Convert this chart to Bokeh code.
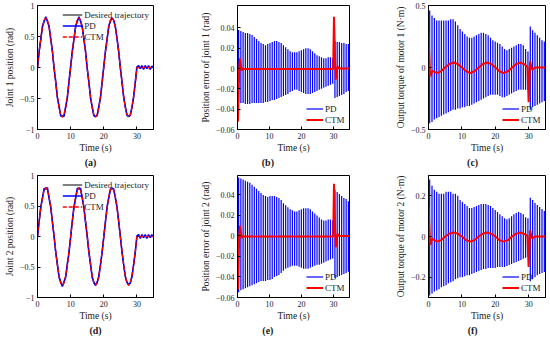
import numpy as np
from bokeh.plotting import figure
from bokeh.layouts import row, column
from bokeh.models import Range1d, FixedTicker, CustomJSTickFormatter, LinearAxis
from bokeh.embed import file_html
from bokeh.resources import INLINE

# ---------------- data ----------------
t_pos = np.arange(0, 35.01, 0.5)
desired = [0, 0.247, 0.470, 0.647, 0.761, 0.8, 0.761, 0.647, 0.470, 0.247,
           0, -0.247, -0.470, -0.647, -0.761, -0.8, -0.761, -0.647, -0.470, -0.247,
           0, 0.247, 0.470, 0.647, 0.761, 0.8, 0.761, 0.647, 0.470, 0.247,
           0, -0.247, -0.470, -0.647, -0.761, -0.8, -0.761, -0.647, -0.470, -0.247,
           0, 0.247, 0.470, 0.647, 0.761, 0.8, 0.761, 0.647, 0.470, 0.247,
           0, -0.247, -0.470, -0.647, -0.761, -0.8, -0.761, -0.647, -0.470, -0.247,
           0,
           0, 0, 0, 0, 0, 0, 0, 0, 0, 0]
ctm_pos_1 = desired
ctm_pos_2 = desired
pd_pos_1 = [0.0, 0.27, 0.45, 0.67, 0.74, 0.82, 0.74, 0.67, 0.45, 0.27,
            -0.02, -0.22, -0.49, -0.62, -0.78, -0.78, -0.79, -0.63, -0.49, -0.22,
            0.02, 0.27, 0.45, 0.67, 0.74, 0.82, 0.74, 0.66, 0.45, 0.26,
            -0.02, -0.23, -0.49, -0.63, -0.78, -0.79, -0.78, -0.63, -0.49, -0.23,
            0.02, 0.27, 0.45, 0.67, 0.75, 0.80, 0.76, 0.66, 0.46, 0.26,
            -0.01, -0.23, -0.48, -0.63, -0.77, -0.79, -0.77, -0.64, -0.48, -0.24,
            0.01,
            0.03, -0.02, 0.03, -0.03, 0.03, -0.02, 0.03, -0.03, 0.02, 0.0]
pd_pos_2 = [0.0, 0.25, 0.49, 0.62, 0.79, 0.78, 0.80, 0.62, 0.49, 0.23,
            0.01, -0.26, -0.45, -0.67, -0.74, -0.82, -0.74, -0.67, -0.45, -0.27,
            -0.01, 0.25, 0.49, 0.62, 0.79, 0.78, 0.79, 0.63, 0.48, 0.23,
            0.01, -0.26, -0.45, -0.67, -0.75, -0.80, -0.75, -0.66, -0.46, -0.26,
            -0.01, 0.24, 0.49, 0.63, 0.78, 0.79, 0.78, 0.63, 0.48, 0.24,
            0.0, -0.26, -0.46, -0.66, -0.75, -0.79, -0.76, -0.66, -0.46, -0.26,
            0.01,
            0.03, -0.03, 0.03, -0.02, 0.03, -0.03, 0.03, -0.02, 0.03, 0.0]

# PD oscillation: one swing every 0.7 s, upper / lower excursions
t_osc = np.arange(0.35, 35, 0.7)
err1_hi = [0.038, 0.037, 0.036, 0.035, 0.035, 0.034, 0.033, 0.031, 0.029, 0.027,
           0.025, 0.024, 0.023, 0.024, 0.025, 0.026, 0.027, 0.027, 0.026, 0.025,
           0.023, 0.021, 0.019, 0.017, 0.016, 0.016, 0.016, 0.017, 0.018, 0.019,
           0.020, 0.020, 0.019, 0.017, 0.015, 0.013, 0.012, 0.011, 0.010, 0.010,
           0.011, 0.011, 0.010, 0.027, 0.026, 0.026, 0.025, 0.025, 0.024, 0.024]
err1_lo = [-0.033, -0.034, -0.034, -0.035, -0.035, -0.035, -0.034, -0.034, -0.034, -0.034,
           -0.034, -0.034, -0.033, -0.033, -0.032, -0.031, -0.031, -0.030, -0.029, -0.028,
           -0.027, -0.026, -0.025, -0.023, -0.022, -0.021, -0.021, -0.022, -0.023, -0.024,
           -0.025, -0.025, -0.025, -0.024, -0.023, -0.022, -0.021, -0.020, -0.019, -0.018,
           -0.017, -0.016, -0.015, -0.029, -0.028, -0.027, -0.026, -0.025, -0.023, -0.022]
err2_hi = [0.057, 0.056, 0.055, 0.054, 0.053, 0.052, 0.050, 0.048, 0.046, 0.044,
           0.042, 0.040, 0.039, 0.038, 0.039, 0.039, 0.039, 0.038, 0.037, 0.035,
           0.032, 0.030, 0.028, 0.026, 0.025, 0.024, 0.024, 0.025, 0.026, 0.027,
           0.027, 0.027, 0.026, 0.024, 0.022, 0.020, 0.018, 0.016, 0.015, 0.015,
           0.016, 0.016, 0.015, 0.045, 0.043, 0.041, 0.039, 0.037, 0.036, 0.034]
err2_lo = [-0.055, -0.053, -0.052, -0.051, -0.050, -0.049, -0.048, -0.047, -0.046, -0.045,
           -0.044, -0.044, -0.044, -0.043, -0.043, -0.042, -0.040, -0.039, -0.038, -0.036,
           -0.034, -0.032, -0.031, -0.030, -0.029, -0.029, -0.029, -0.030, -0.031, -0.032,
           -0.032, -0.032, -0.031, -0.030, -0.029, -0.028, -0.028, -0.027, -0.026, -0.025,
           -0.024, -0.023, -0.022, -0.041, -0.040, -0.039, -0.038, -0.037, -0.036, -0.035]
tq1_hi = [0.46, 0.42, 0.40, 0.38, 0.38, 0.38, 0.38, 0.38, 0.38, 0.39,
          0.39, 0.37, 0.34, 0.31, 0.29, 0.27, 0.25, 0.24, 0.24, 0.25,
          0.26, 0.27, 0.28, 0.28, 0.27, 0.26, 0.24, 0.22, 0.21, 0.20,
          0.19, 0.17, 0.15, 0.14, 0.15, 0.16, 0.17, 0.18, 0.19, 0.19,
          0.18, 0.15, 0.13, 0.33, 0.30, 0.28, 0.26, 0.24, 0.22, 0.21]
tq1_lo = [-0.45, -0.44, -0.42, -0.41, -0.40, -0.39, -0.38, -0.37, -0.36, -0.35,
          -0.34, -0.34, -0.33, -0.33, -0.32, -0.32, -0.31, -0.31, -0.30, -0.29,
          -0.28, -0.27, -0.26, -0.25, -0.24, -0.23, -0.22, -0.22, -0.22, -0.22,
          -0.23, -0.24, -0.24, -0.23, -0.22, -0.21, -0.20, -0.19, -0.18, -0.18,
          -0.18, -0.18, -0.18, -0.34, -0.32, -0.31, -0.30, -0.29, -0.28, -0.27]
tq2_hi = [0.28, 0.25, 0.23, 0.22, 0.21, 0.21, 0.21, 0.22, 0.22, 0.22,
          0.21, 0.21, 0.20, 0.18, 0.17, 0.16, 0.15, 0.14, 0.14, 0.145,
          0.15, 0.155, 0.16, 0.16, 0.16, 0.155, 0.15, 0.14, 0.13, 0.12,
          0.11, 0.10, 0.09, 0.085, 0.09, 0.10, 0.11, 0.115, 0.12, 0.115,
          0.11, 0.095, 0.09, 0.19, 0.18, 0.165, 0.155, 0.145, 0.135, 0.125]
tq2_lo = [-0.29, -0.28, -0.27, -0.265, -0.26, -0.25, -0.245, -0.24, -0.23, -0.225,
          -0.22, -0.21, -0.205, -0.20, -0.20, -0.195, -0.19, -0.19, -0.185, -0.18,
          -0.175, -0.17, -0.165, -0.16, -0.16, -0.155, -0.155, -0.155, -0.155, -0.15,
          -0.15, -0.15, -0.15, -0.145, -0.14, -0.135, -0.13, -0.125, -0.12, -0.115,
          -0.11, -0.105, -0.10, -0.22, -0.21, -0.20, -0.19, -0.185, -0.18, -0.175]

# CTM curves
t_ctm_err = [0, 0.15, 0.3, 0.55, 0.8, 1.05, 1.3, 1.6, 2.0, 29.9, 30.15, 30.4, 30.7, 31.0, 31.3, 31.7, 35]
ctm_err1 = [0, -0.052, -0.03, 0.0, 0.010, 0.004, -0.002, 0.0, -0.0005, -0.0005, 0.051, 0.02, -0.011, -0.003, 0.002, 0.0, 0.0]
ctm_err2 = [0, -0.052, -0.03, 0.0, 0.010, 0.004, -0.002, 0.0, -0.0005, -0.0005, 0.051, 0.02, -0.011, -0.003, 0.002, 0.0, 0.0]
t_ctm_tq = [0, 0.2, 0.45, 0.7, 1.0, 1.5,
            2.5, 3.75, 5, 6.25, 7.5, 8.75, 10, 11.25, 12.5, 13.75, 15, 16.25, 17.5, 18.75, 20,
            21.25, 22.5, 23.75, 25, 26.25, 27.5, 28.75,
            29.6, 29.95, 30.4, 30.8, 31.1, 31.5, 32, 35]
ctm_tq1 = [0.28, 0.12, -0.05, -0.07, -0.03, -0.03,
           -0.045, -0.03, 0.0, 0.028, 0.04, 0.028, 0.0, -0.03, -0.045, -0.03, 0.0, 0.028, 0.04, 0.028, 0.0,
           -0.03, -0.045, -0.03, 0.0, 0.028, 0.04, 0.025,
           0.005, -0.28, 0.05, 0.0, -0.02, -0.005, 0.0, 0.0]
ctm_tq2 = [0.15, 0.07, -0.03, -0.04, -0.01, -0.015,
           -0.025, -0.018, 0.0, 0.014, 0.02, 0.014, 0.0, -0.018, -0.025, -0.018, 0.0, 0.014, 0.02, 0.014, 0.0,
           -0.018, -0.025, -0.018, 0.0, 0.014, 0.02, 0.012,
           0.003, -0.15, 0.03, 0.0, -0.01, -0.003, 0.0, 0.0]

x_ticks = [0, 10, 20, 30]
pos_ticks = [-1, -0.5, 0, 0.5, 1]
err_ticks = [-0.06, -0.04, -0.02, 0, 0.02, 0.04]
tq1_ticks = [-0.5, 0, 0.5]
tq2_ticks = [-0.2, 0, 0.2]

FONT = "Liberation Serif"
BLUE = "#0000ff"
RED = "#ff0000"
TXT = "#222222"


def fmt():
    return CustomJSTickFormatter(code="""
if (Math.abs(tick) < 1e-9) return '0';
var s = parseFloat(Math.abs(tick).toFixed(4)).toString();
return (tick < 0 ? '\\u2212' : '') + s;
""")


def style_axis(ax, ticks):
    ax.ticker = FixedTicker(ticks=ticks)
    ax.formatter = fmt()
    ax.major_tick_in = 3
    ax.major_tick_out = 0
    ax.minor_tick_in = 0
    ax.minor_tick_out = 0
    ax.major_tick_line_color = "black"
    ax.axis_line_color = "black"
    ax.major_label_text_font = FONT
    ax.major_label_text_font_size = "8px"
    ax.major_label_text_color = TXT
    ax.major_label_standoff = 3
    ax.axis_label_text_font = FONT
    ax.axis_label_text_font_size = "9.5px"
    ax.axis_label_text_font_style = "normal"
    ax.axis_label_text_color = TXT
    ax.axis_label_standoff = 1


def panel(width, height, bl, br, bt, bb, yr, yticks, ylabel, cap, cap_x):
    p = figure(width=width, height=height, x_range=Range1d(0, 35), y_range=Range1d(*yr),
               output_backend="svg", toolbar_location=None,
               min_border_left=bl, min_border_right=br, min_border_top=bt, min_border_bottom=bb)
    p.grid.visible = False
    p.outline_line_color = "black"
    p.outline_line_width = 1
    style_axis(p.xaxis[0], x_ticks)
    style_axis(p.yaxis[0], yticks)
    p.yaxis.axis_label_standoff = 2
    p.xaxis.axis_label = "Time (s)"
    p.yaxis.axis_label = ylabel
    # sub-figure caption as a tick-less axis below the time axis
    cap_axis = LinearAxis(ticker=FixedTicker(ticks=[cap_x]),
                          formatter=CustomJSTickFormatter(code="return '%s';" % cap),
                          axis_line_color=None, major_tick_line_color=None,
                          major_tick_in=0, major_tick_out=0, minor_tick_in=0, minor_tick_out=0,
                          major_label_standoff=1, major_label_text_font=FONT,
                          major_label_text_font_size="10px", major_label_text_font_style="bold",
                          major_label_text_color=TXT)
    p.add_layout(cap_axis, "below")
    return p


def style_legend(p, loc, gw):
    lg = p.legend[0]
    lg.location = loc
    lg.background_fill_alpha = 0
    lg.border_line_alpha = 0
    lg.label_text_font = FONT
    lg.label_text_font_size = "9px"
    lg.label_text_color = TXT
    lg.glyph_width = gw
    lg.glyph_height = 11
    lg.label_height = 11
    lg.label_standoff = 2
    lg.spacing = 0
    lg.padding = 2
    lg.margin = 2


def pos_panel(width, height, bl, br, bt, bb, pd, ctm, ylabel, cap, cap_x):
    p = panel(width, height, bl, br, bt, bb, (-1, 1), pos_ticks, ylabel, cap, cap_x)
    p.line(t_pos, desired, color="black", line_width=1, legend_label="Desired trajectory")
    p.line(t_pos, pd, color=BLUE, line_width=1.6, legend_label="PD")
    p.line(t_pos, ctm, color=RED, line_width=1.4, line_dash="4 2", legend_label="CTM")
    style_legend(p, "top_right", 20)
    return p


def osc_panel(width, height, bl, br, bt, bb, yr, yticks, hi, lo, tc, ctm, ylabel, cap, cap_x):
    p = panel(width, height, bl, br, bt, bb, yr, yticks, ylabel, cap, cap_x)
    p.segment(x0=t_osc, y0=lo, x1=t_osc, y1=hi, color=BLUE, line_width=1.2, legend_label="PD")
    p.line(tc, ctm, color=RED, line_width=2, legend_label="CTM")
    style_legend(p, "bottom_right", 17)
    return p


H1, H2 = 170, 168
fa = pos_panel(190, H1, 37, 37, 5, 41, pd_pos_1, ctm_pos_1, "Joint 1 position (rad)", "(a)", 16)
fb = osc_panel(178, H1, 47, 19, 5, 41, (-0.06, 0.062), err_ticks, err1_hi, err1_lo,
               t_ctm_err, ctm_err1, "Position error of joint 1 (rad)", "(b)", 9.5)
fc = osc_panel(181, H1, 60, 4, 5, 41, (-0.5, 0.5), tq1_ticks, tq1_hi, tq1_lo,
               t_ctm_tq, ctm_tq1, "Output torque of motor 1 (N\u00b7m)", "(c)", 13.2)
fd = pos_panel(190, H2, 37, 37, 5, 41, pd_pos_2, ctm_pos_2, "Joint 2 position (rad)", "(d)", 17.5)
fe = osc_panel(178, H2, 47, 19, 5, 41, (-0.06, 0.059), err_ticks, err2_hi, err2_lo,
               t_ctm_err, ctm_err2, "Position error of joint 2 (rad)", "(e)", 9.5)
ff = osc_panel(181, H2, 60, 4, 5, 41, (-0.3, 0.3), tq2_ticks, tq2_hi, tq2_lo,
               t_ctm_tq, ctm_tq2, "Output torque of motor 2 (N\u00b7m)", "(f)", 13.2)

layout = column(row(fa, fb, fc), row(fd, fe, ff))
open("out.html", "w", encoding="utf-8").write(file_html(layout, INLINE))
